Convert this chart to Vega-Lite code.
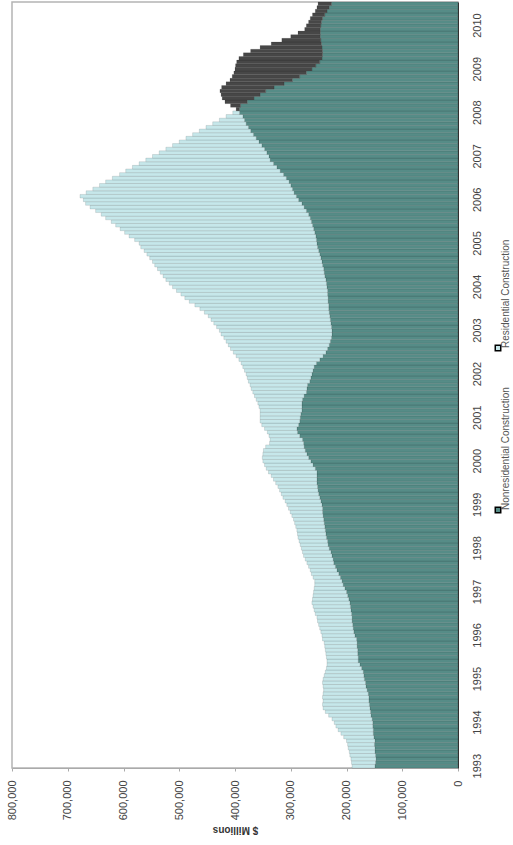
{
  "$schema": "https://vega.github.io/schema/vega-lite/v6.json",
  "width": 446,
  "height": 766,
  "padding": {"left": 6, "top": 1, "right": 0, "bottom": 0},
  "background": "white",
  "config": {
    "font": "Liberation Sans",
    "view": {"stroke": "#b4b4b4", "strokeWidth": 1.5},
    "style": {"guide-label": {"angle": 270}}
  },
  "data": {"values": [
    {"d":"1993-01","n":149000,"r":41000},{"d":"1993-02","n":148000,"r":43000},{"d":"1993-03","n":147000,"r":45000},{"d":"1993-04","n":148000,"r":46000},{"d":"1993-05","n":149000,"r":46000},{"d":"1993-06","n":149000,"r":48000},{"d":"1993-07","n":150000,"r":48000},{"d":"1993-08","n":149000,"r":51000},{"d":"1993-09","n":151000,"r":54000},{"d":"1993-10","n":152000,"r":58000},{"d":"1993-11","n":152000,"r":63000},{"d":"1993-12","n":153000,"r":66000},
    {"d":"1994-01","n":153000,"r":69000},{"d":"1994-02","n":154000,"r":72000},{"d":"1994-03","n":156000,"r":76000},{"d":"1994-04","n":157000,"r":81000},{"d":"1994-05","n":158000,"r":84000},{"d":"1994-06","n":159000,"r":84000},{"d":"1994-07","n":160000,"r":82000},{"d":"1994-08","n":160000,"r":83000},{"d":"1994-09","n":161000,"r":81000},{"d":"1994-10","n":163000,"r":78000},{"d":"1994-11","n":165000,"r":77000},{"d":"1994-12","n":166000,"r":77000},
    {"d":"1995-01","n":168000,"r":74000},{"d":"1995-02","n":169000,"r":71000},{"d":"1995-03","n":170000,"r":68000},{"d":"1995-04","n":173000,"r":63000},{"d":"1995-05","n":176000,"r":59000},{"d":"1995-06","n":179000,"r":56000},{"d":"1995-07","n":179000,"r":57000},{"d":"1995-08","n":180000,"r":57000},{"d":"1995-09","n":180000,"r":58000},{"d":"1995-10","n":181000,"r":58000},{"d":"1995-11","n":181000,"r":59000},{"d":"1995-12","n":182000,"r":61000},
    {"d":"1996-01","n":185000,"r":59000},{"d":"1996-02","n":187000,"r":59000},{"d":"1996-03","n":188000,"r":60000},{"d":"1996-04","n":189000,"r":61000},{"d":"1996-05","n":190000,"r":62000},{"d":"1996-06","n":190000,"r":63000},{"d":"1996-07","n":191000,"r":65000},{"d":"1996-08","n":192000,"r":66000},{"d":"1996-09","n":193000,"r":67000},{"d":"1996-10","n":194000,"r":68000},{"d":"1996-11","n":196000,"r":65000},{"d":"1996-12","n":198000,"r":62000},
    {"d":"1997-01","n":200000,"r":59000},{"d":"1997-02","n":203000,"r":55000},{"d":"1997-03","n":206000,"r":51000},{"d":"1997-04","n":208000,"r":49000},{"d":"1997-05","n":211000,"r":49000},{"d":"1997-06","n":214000,"r":49000},{"d":"1997-07","n":217000,"r":48000},{"d":"1997-08","n":220000,"r":48000},{"d":"1997-09","n":223000,"r":48000},{"d":"1997-10","n":224000,"r":50000},{"d":"1997-11","n":226000,"r":51000},{"d":"1997-12","n":228000,"r":51000},
    {"d":"1998-01","n":231000,"r":50000},{"d":"1998-02","n":233000,"r":50000},{"d":"1998-03","n":234000,"r":51000},{"d":"1998-04","n":236000,"r":51000},{"d":"1998-05","n":237000,"r":51000},{"d":"1998-06","n":238000,"r":51000},{"d":"1998-07","n":239000,"r":52000},{"d":"1998-08","n":240000,"r":53000},{"d":"1998-09","n":241000,"r":54000},{"d":"1998-10","n":242000,"r":56000},{"d":"1998-11","n":243000,"r":58000},{"d":"1998-12","n":243000,"r":61000},
    {"d":"1999-01","n":244000,"r":63000},{"d":"1999-02","n":246000,"r":64000},{"d":"1999-03","n":248000,"r":66000},{"d":"1999-04","n":250000,"r":67000},{"d":"1999-05","n":251000,"r":69000},{"d":"1999-06","n":252000,"r":71000},{"d":"1999-07","n":253000,"r":74000},{"d":"1999-08","n":253000,"r":78000},{"d":"1999-09","n":253000,"r":82000},{"d":"1999-10","n":253000,"r":87000},{"d":"1999-11","n":256000,"r":88000},{"d":"1999-12","n":260000,"r":87000},
    {"d":"2000-01","n":264000,"r":86000},{"d":"2000-02","n":268000,"r":83000},{"d":"2000-03","n":271000,"r":79000},{"d":"2000-04","n":274000,"r":75000},{"d":"2000-05","n":276000,"r":69000},{"d":"2000-06","n":277000,"r":61000},{"d":"2000-07","n":279000,"r":58000},{"d":"2000-08","n":284000,"r":55000},{"d":"2000-09","n":288000,"r":54000},{"d":"2000-10","n":289000,"r":58000},{"d":"2000-11","n":286000,"r":66000},{"d":"2000-12","n":284000,"r":71000},
    {"d":"2001-01","n":283000,"r":72000},{"d":"2001-02","n":282000,"r":73000},{"d":"2001-03","n":280000,"r":75000},{"d":"2001-04","n":280000,"r":77000},{"d":"2001-05","n":280000,"r":79000},{"d":"2001-06","n":279000,"r":83000},{"d":"2001-07","n":276000,"r":89000},{"d":"2001-08","n":272000,"r":96000},{"d":"2001-09","n":271000,"r":100000},{"d":"2001-10","n":270000,"r":103000},{"d":"2001-11","n":266000,"r":110000},{"d":"2001-12","n":264000,"r":114000},
    {"d":"2002-01","n":262000,"r":118000},{"d":"2002-02","n":260000,"r":123000},{"d":"2002-03","n":258000,"r":128000},{"d":"2002-04","n":254000,"r":135000},{"d":"2002-05","n":248000,"r":145000},{"d":"2002-06","n":242000,"r":156000},{"d":"2002-07","n":237000,"r":166000},{"d":"2002-08","n":234000,"r":174000},{"d":"2002-09","n":231000,"r":181000},{"d":"2002-10","n":229000,"r":187000},{"d":"2002-11","n":227000,"r":193000},{"d":"2002-12","n":226000,"r":199000},
    {"d":"2003-01","n":226000,"r":202000},{"d":"2003-02","n":227000,"r":206000},{"d":"2003-03","n":228000,"r":210000},{"d":"2003-04","n":229000,"r":214000},{"d":"2003-05","n":230000,"r":218000},{"d":"2003-06","n":231000,"r":224000},{"d":"2003-07","n":232000,"r":231000},{"d":"2003-08","n":232000,"r":240000},{"d":"2003-09","n":233000,"r":249000},{"d":"2003-10","n":233000,"r":257000},{"d":"2003-11","n":234000,"r":263000},{"d":"2003-12","n":234000,"r":271000},
    {"d":"2004-01","n":235000,"r":277000},{"d":"2004-02","n":236000,"r":282000},{"d":"2004-03","n":237000,"r":287000},{"d":"2004-04","n":239000,"r":290000},{"d":"2004-05","n":240000,"r":294000},{"d":"2004-06","n":241000,"r":298000},{"d":"2004-07","n":243000,"r":301000},{"d":"2004-08","n":244000,"r":304000},{"d":"2004-09","n":246000,"r":307000},{"d":"2004-10","n":248000,"r":310000},{"d":"2004-11","n":250000,"r":313000},{"d":"2004-12","n":252000,"r":317000},
    {"d":"2005-01","n":253000,"r":319000},{"d":"2005-02","n":254000,"r":326000},{"d":"2005-03","n":255000,"r":335000},{"d":"2005-04","n":257000,"r":341000},{"d":"2005-05","n":259000,"r":347000},{"d":"2005-06","n":261000,"r":353000},{"d":"2005-07","n":263000,"r":359000},{"d":"2005-08","n":265000,"r":367000},{"d":"2005-09","n":268000,"r":372000},{"d":"2005-10","n":272000,"r":378000},{"d":"2005-11","n":276000,"r":384000},{"d":"2005-12","n":280000,"r":388000},
    {"d":"2006-01","n":286000,"r":386000},{"d":"2006-02","n":290000,"r":388000},{"d":"2006-03","n":294000,"r":373000},{"d":"2006-04","n":297000,"r":358000},{"d":"2006-05","n":300000,"r":343000},{"d":"2006-06","n":303000,"r":329000},{"d":"2006-07","n":308000,"r":312000},{"d":"2006-08","n":313000,"r":294000},{"d":"2006-09","n":319000,"r":277000},{"d":"2006-10","n":325000,"r":259000},{"d":"2006-11","n":331000,"r":241000},{"d":"2006-12","n":337000,"r":223000},
    {"d":"2007-01","n":339000,"r":209000},{"d":"2007-02","n":343000,"r":193000},{"d":"2007-03","n":347000,"r":177000},{"d":"2007-04","n":352000,"r":160000},{"d":"2007-05","n":357000,"r":143000},{"d":"2007-06","n":362000,"r":126000},{"d":"2007-07","n":367000,"r":109000},{"d":"2007-08","n":372000,"r":92000},{"d":"2007-09","n":376000,"r":76000},{"d":"2007-10","n":380000,"r":60000},{"d":"2007-11","n":383000,"r":45000},{"d":"2007-12","n":386000,"r":30000},
    {"d":"2008-01","n":392000,"r":12000},{"d":"2008-02","n":392000,"z":6000},{"d":"2008-03","n":390000,"z":18000},{"d":"2008-04","n":378000,"z":40000},{"d":"2008-05","n":366000,"z":57000},{"d":"2008-06","n":355000,"z":70000},{"d":"2008-07","n":345000,"z":82000},{"d":"2008-08","n":330000,"z":94000},{"d":"2008-09","n":312000,"z":104000},{"d":"2008-10","n":297000,"z":112000},{"d":"2008-11","n":284000,"z":121000},{"d":"2008-12","n":272000,"z":130000},
    {"d":"2009-01","n":262000,"z":138000},{"d":"2009-02","n":255000,"z":144000},{"d":"2009-03","n":248000,"z":149000},{"d":"2009-04","n":244000,"z":149000},{"d":"2009-05","n":243000,"z":142000},{"d":"2009-06","n":243000,"z":129000},{"d":"2009-07","n":244000,"z":111000},{"d":"2009-08","n":245000,"z":90000},{"d":"2009-09","n":246000,"z":70000},{"d":"2009-10","n":247000,"z":53000},{"d":"2009-11","n":247000,"z":40000},{"d":"2009-12","n":247000,"z":28000},
    {"d":"2010-01","n":246000,"z":26000},{"d":"2010-02","n":245000,"z":23000},{"d":"2010-03","n":243000,"z":22000},{"d":"2010-04","n":239000,"z":22000},{"d":"2010-05","n":235000,"z":21000},{"d":"2010-06","n":231000,"z":22000},{"d":"2010-07","n":227000,"z":24000}
  ]},
  "transform": [
    {"fold": ["n", "r", "z"], "as": ["k", "v"]},
    {"filter": "datum.v > 0"}
  ],
  "mark": {"type": "bar", "stroke": "#000000", "strokeOpacity": 0.22, "strokeWidth": 0.5},
  "encoding": {
    "y": {
      "field": "d", "type": "ordinal", "sort": "descending",
      "scale": {"paddingInner": 0, "paddingOuter": 0},
      "axis": {
        "orient": "right", "title": null,
        "values": ["1993-01","1994-01","1995-01","1996-01","1997-01","1998-01","1999-01","2000-01","2001-01","2002-01","2003-01","2004-01","2005-01","2006-01","2007-01","2008-01","2009-01","2010-01"],
        "labelExpr": "slice(datum.value, 0, 4)",
        "labelAngle": 270, "labelFontSize": 11, "labelColor": "#444",
        "labelPadding": 13, "ticks": false, "domainColor": "#333", "labelOverlap": false
      }
    },
    "x": {
      "field": "v", "type": "quantitative", "stack": "zero",
      "scale": {"domain": [0, 800000], "reverse": true, "nice": false},
      "axis": {
        "orient": "bottom", "values": [0,100000,200000,300000,400000,500000,600000,700000,800000],
        "labelExpr": "format(datum.value, ',')", "labelAngle": 270, "labelFontSize": 11, "labelColor": "#444",
        "labelPadding": 9, "tickSize": 3, "tickColor": "#aaa", "domainColor": "#aaa", "grid": false,
        "title": "$ Millions", "titleAngle": 180, "titleFontSize": 10, "titleFontWeight": "bold",
        "titleColor": "#333", "titlePadding": 15
      }
    },
    "color": {
      "field": "k", "type": "nominal",
      "scale": {"domain": ["n", "r", "z"], "range": ["#568c87", "#c6e7ea", "#474747"]},
      "legend": {
        "orient": "none", "legendX": 481, "legendY": 341, "direction": "vertical", "title": null,
        "values": ["r", "n"],
        "labelExpr": "datum.label == 'n' ? 'Nonresidential Construction' : 'Residential Construction'",
        "symbolType": "square", "symbolSize": 30, "labelFontSize": 10, "labelColor": "#555",
        "labelLimit": 0, "rowPadding": 33, "labelOffset": 3
      }
    },
    "order": {"field": "k", "sort": "ascending"}
  }
}
